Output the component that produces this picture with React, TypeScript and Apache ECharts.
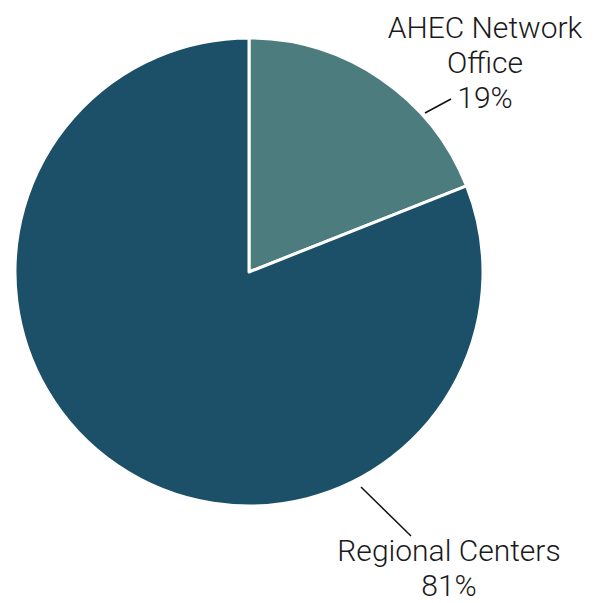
import React, { useEffect, useRef } from "react";
import * as echarts from "echarts";

const categories = ["AHEC Network\nOffice", "Regional Centers"];
const values = [19, 81];
const colors = ["#4d7c7f", "#1c5069"];

const labelPos = [
  { x: 485, y: 62, line: [[425, 113], [451, 99]] },
  { x: 449, y: 568, line: [[361, 487], [411, 536]] },
];

export default function App() {
  const ref = useRef<HTMLDivElement>(null);
  useEffect(() => {
    if (!ref.current) return;
    const chart = echarts.init(ref.current, undefined, { renderer: "svg" });
    chart.setOption({
      animation: false,
      series: [
        {
          type: "pie",
          center: [249, 272],
          radius: 234,
          startAngle: 90,
          clockwise: true,
          data: categories.map((name, i) => ({
            name,
            value: values[i],
            itemStyle: { color: colors[i] },
          })),
          itemStyle: { borderColor: "#ffffff", borderWidth: 3 },
          label: {
            show: true,
            formatter: (p: any) => `${p.name}\n${p.value}%`,
            fontFamily: "Roboto",
            fontSize: 30,
            fontWeight: 300,
            color: "#1a1a1a",
            lineHeight: 35,
            align: "center",
            overflow: "none",
          },
          labelLine: {
            show: true,
            lineStyle: { color: "#111111", width: 1.5 },
          },
          labelLayout: (params: any) => {
            const p = labelPos[params.dataIndex];
            return {
              x: p.x,
              y: p.y,
              align: "center",
              verticalAlign: "middle",
              labelLinePoints: p.line,
            };
          },
          emphasis: { disabled: true },
        },
      ],
    });
    return () => chart.dispose();
  }, []);
  return (
    <div
      ref={ref}
      style={{ position: "fixed", left: 0, top: 0, width: 604, height: 603, background: "#fff" }}
    />
  );
}
